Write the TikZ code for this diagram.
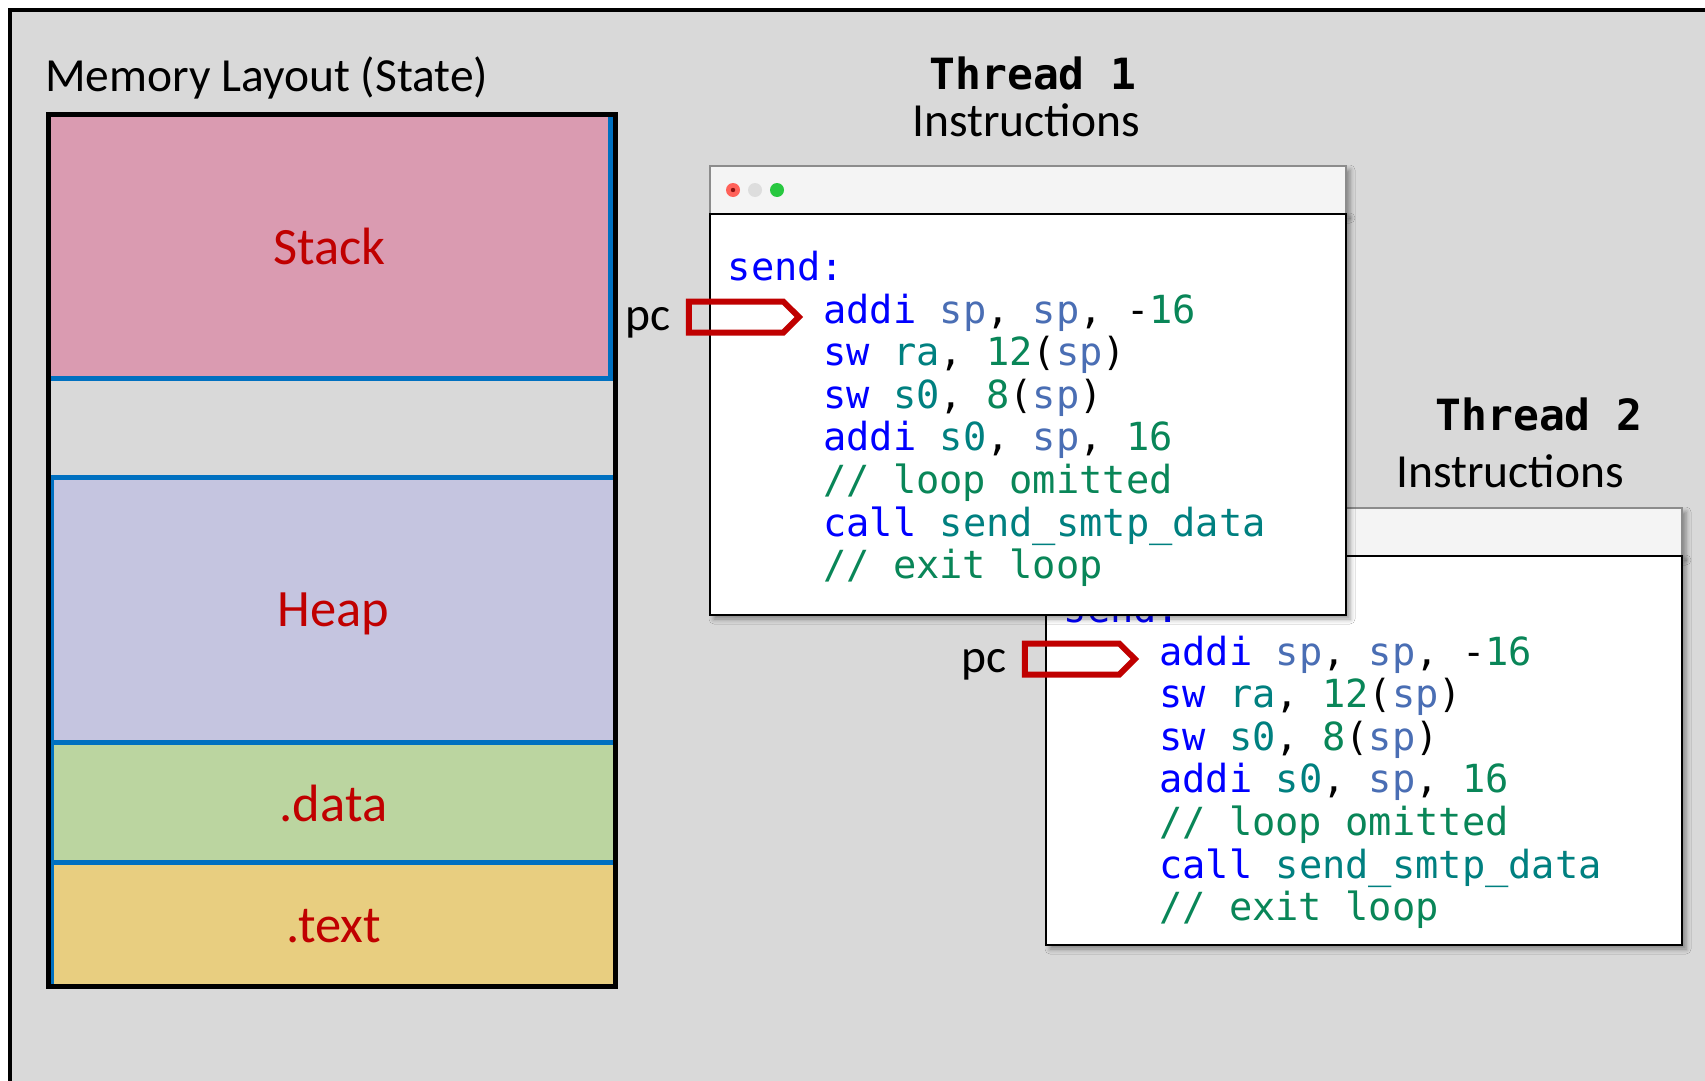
\documentclass[tikz,border=0pt]{standalone}
\usepackage{fontspec}
\setmainfont{Carlito}
\newfontfamily\codefont{DejaVu Sans Mono}
\usetikzlibrary{positioning,shapes.symbols,shadows.blur}

\definecolor{panelgray}{HTML}{D9D9D9}
\definecolor{stackpink}{HTML}{DA9BB1}
\definecolor{heaplav}{HTML}{C5C5E0}
\definecolor{datagreen}{HTML}{BBD5A0}
\definecolor{textyellow}{HTML}{E8CE80}
\definecolor{segblue}{HTML}{0070C0}
\definecolor{labelred}{HTML}{C00000}
\definecolor{kwblue}{HTML}{0000FF}
\definecolor{regblue}{HTML}{4A6EB4}
\definecolor{regteal}{HTML}{008080}
\definecolor{numgreen}{HTML}{098658}
\definecolor{barfill}{HTML}{F4F4F4}
\definecolor{bargray}{HTML}{8C8C8C}
\definecolor{dotred}{HTML}{FF6159}
\definecolor{dotdark}{HTML}{8A1010}
\definecolor{dotgray}{HTML}{DDDDDD}
\definecolor{dotgreen}{HTML}{28C840}

% syntax colours for the assembly listings
\newcommand{\kw}[1]{\textcolor{kwblue}{#1}}
\newcommand{\rg}[1]{\textcolor{regblue}{#1}}
\newcommand{\rt}[1]{\textcolor{regteal}{#1}}
\newcommand{\nm}[1]{\textcolor{numgreen}{#1}}

\tikzset{
  frame/.style={draw=black, line width=4pt, fill=panelgray},
  memframe/.style={draw=black, line width=5pt},
  seg/.style={draw=segblue, line width=5pt, outer sep=0pt, text=labelred, text depth=0pt,
    font=\fontsize{52.5}{60}\selectfont},
  lbl/.style={inner sep=0pt, font=\fontsize{47.5}{57}\selectfont},
  ttl/.style={inner sep=0pt, anchor=base, font=\codefont\bfseries\fontsize{43}{50}\selectfont},
  code/.style={inner sep=0pt, anchor=base west, font=\codefont\fontsize{38.7}{45}\selectfont},
  winshadow/.style={blur shadow={shadow xshift=4pt, shadow yshift=-4pt,
    shadow blur radius=5pt, shadow opacity=40}},
  winbar/.style={winshadow, draw=bargray, fill=barfill, line width=2.5pt, anchor=north west,
    minimum width=636pt, minimum height=48pt, inner sep=0pt, outer sep=0pt},
  winbody/.style={winshadow, draw=black, fill=white, line width=2.5pt, anchor=north west,
    minimum width=636pt, inner sep=0pt, outer sep=0pt},
  dot/.style={circle, minimum size=14pt, inner sep=0pt, outer sep=0pt},
  pcarrow/.style={signal, signal to=east, signal pointer angle=90, draw=labelred,
    line width=6pt, minimum width=110pt, minimum height=31pt, inner sep=0pt, outer sep=0pt}
}

\begin{document}
\begin{tikzpicture}[x=1pt, y=-1pt]
\useasboundingbox (0,0) rectangle (1705,1081);
\clip (0,0) rectangle (1705,1081);
\draw[frame] (10,10) rectangle (1730,1110);

% memory layout
\node[lbl, anchor=base west] (memtitle) at (45,92) {Memory Layout (State)};
\node[seg, fill=stackpink, minimum width=562pt, minimum height=263.5pt] (stack) at (329.5,246.25) {Stack};
\node[seg, fill=heaplav, minimum width=564pt, minimum height=264.5pt] (heap) at (333.5,609.75) {Heap};
\node[seg, fill=datagreen, minimum width=564pt, minimum height=120pt, below=0pt of heap] (data) {\raisebox{-2pt}{.data}};
\node[seg, fill=textyellow, minimum width=564pt, minimum height=124.5pt, below=0pt of data] (text) {\raisebox{-3pt}{.text}};
\draw[memframe] (48.5,114.5) rectangle (615.5,986.5);

% instruction windows, thread 2 first so thread 1 sits on top
\foreach \t/\dx/\dy/\h in {2/336/342/389, 1/0/0/401}{
\begin{scope}[shift={(\dx,\dy)}]
  \node[winbar] (bar\t) at (710,166) {};
  \node[winbody, minimum height=\h pt] (body\t) at (bar\t.south west) {};
  \node[dot, fill=dotred] (red\t) at ([xshift=23pt]bar\t.west) {};
  \node[dot, fill=dotgray, right=8pt of red\t] (gray\t) {};
  \node[dot, fill=dotgreen, right=8pt of gray\t] (green\t) {};
  \fill[dotdark] (red\t) circle (2.2pt);

  \node[code] (c\t-0) at (727.5,280.5) {\kw{send:}};
  \node[code] (c\t-1) at ([xshift=95.5pt, yshift=-42.6pt]c\t-0.base west) {\kw{addi} \rg{sp}, \rg{sp}, -\nm{16}};
  \node[code] (c\t-2) at ([yshift=-42.6pt]c\t-1.base west) {\kw{sw} \rt{ra}, \nm{12}(\rg{sp})};
  \node[code] (c\t-3) at ([yshift=-42.6pt]c\t-2.base west) {\kw{sw} \rt{s0}, \nm{8}(\rg{sp})};
  \node[code] (c\t-4) at ([yshift=-42.6pt]c\t-3.base west) {\kw{addi} \rt{s0}, \rg{sp}, \nm{16}};
  \node[code] (c\t-5) at ([yshift=-42.6pt]c\t-4.base west) {\nm{// loop omitted}};
  \node[code] (c\t-6) at ([yshift=-42.6pt]c\t-5.base west) {\kw{call} \rt{send\_smtp\_data}};
  \node[code] (c\t-7) at ([yshift=-42.6pt]c\t-6.base west) {\nm{// exit loop}};

  \node[pcarrow] (pc\t) at (736,317) {};
  \node[lbl, left=18pt of pc\t, yshift=-6pt] (pclbl\t) {pc};
\end{scope}
}

\node[ttl] (thr1) at (1033,89) {Thread 1};
\node[lbl, anchor=base] (ins1) at (1026,136) {Instructions};
\node[ttl] (thr2) at (1539,430.6) {Thread 2};
\node[lbl, anchor=base] (ins2) at (1510,487) {Instructions};
\end{tikzpicture}
\end{document}
